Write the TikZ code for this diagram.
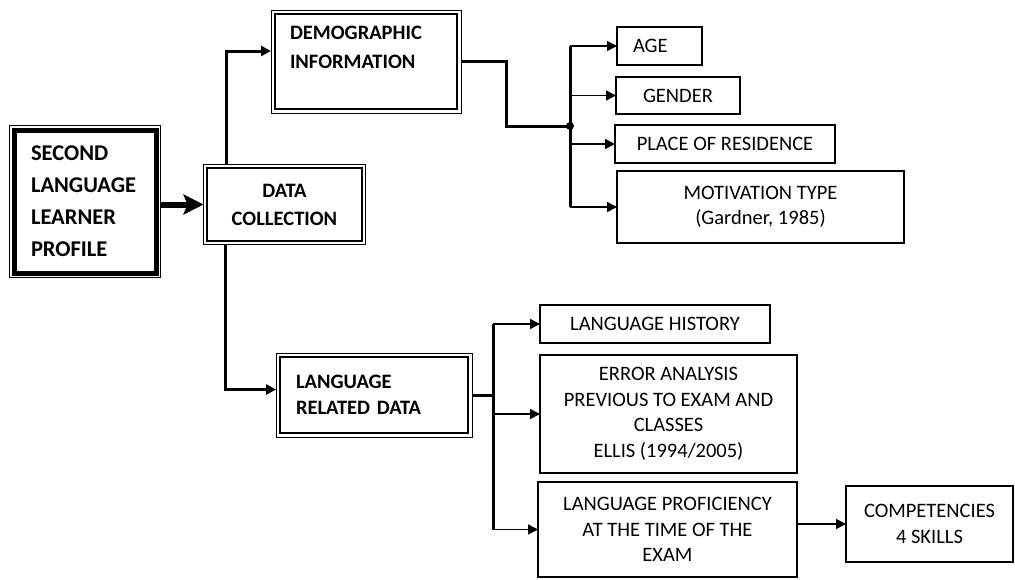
\documentclass[tikz,border=0pt]{standalone}
\usepackage{fontspec}
\setmainfont{Carlito}
\usetikzlibrary{arrows.meta,fit}

\begin{document}
\begin{tikzpicture}[x=1pt,y=-1pt,>={Triangle[length=10pt,width=10pt]},
                    every node/.style={font=\fontsize{20.5}{25.5}\selectfont},
                    box/.style={draw,line width=1.6pt,outer sep=0pt,inner sep=0pt,align=center},
                    headbox/.style={draw,outer sep=0pt,inner ysep=0pt,align=left},
                    frame/.style={draw,line width=1pt,outer sep=0pt},
                    link/.style={line width=3pt},
                    branch/.style={->,line width=1.5pt}]
  \useasboundingbox (0,0) rectangle (1015,579);

  % main boxes with double borders
  \node[headbox, line width=5pt, inner xsep=17pt, text width=108pt, minimum height=143pt,
        font=\fontsize{22.5}{32}\selectfont\bfseries] (sllp) at (85,201.5)
        {SECOND\\LANGUAGE\\LEARNER\\PROFILE};
  \node[box, line width=1.5pt, minimum width=155pt, minimum height=73pt,
        font=\fontsize{20.5}{28}\selectfont\bfseries] (dc) at (284.5,204.5) {DATA\\COLLECTION};
  \node[headbox, line width=2.5pt, inner xsep=15pt, text width=152pt, minimum height=95pt,
        font=\fontsize{20.5}{29}\selectfont\bfseries] (demo) at (366,61.5)
        {DEMOGRAPHIC\\INFORMATION\\\mbox{}};
  \node[headbox, line width=2.5pt, inner xsep=16pt, text width=156pt, minimum height=76pt,
        font=\fontsize{20.5}{26}\selectfont\bfseries] (lrd) at (374,395)
        {LANGUAGE\\RELATED DATA};

  \node[frame, fit=(sllp), inner sep=4.5pt] (sllp-f) {};
  \node[frame, fit=(dc), inner sep=3.5pt] (dc-f) {};
  \node[frame, fit=(demo), inner sep=4pt] (demo-f) {};
  \node[frame, fit=(lrd), inner sep=4pt] (lrd-f) {};

  % demographic items
  \node[box, minimum width=85pt, minimum height=38pt, text width=53pt, inner xsep=16pt,
        align=left] (age) at (659.5,46) {AGE};
  \node[box, minimum width=124pt, minimum height=37pt] (gen) at (678,95.5) {GENDER};
  \node[box, minimum width=220pt, minimum height=38pt] (res) at (725,144) {PLACE OF RESIDENCE};
  \node[box, minimum width=287pt, minimum height=72pt] (mot) at (760.5,207)
        {MOTIVATION TYPE\\(Gardner, 1985)};

  % language items
  \node[box, minimum width=230pt, minimum height=38pt] (hist) at (655,324) {LANGUAGE HISTORY};
  \node[box, minimum width=257pt, minimum height=118pt] (err) at (668.5,414)
        {ERROR ANALYSIS\\PREVIOUS TO EXAM AND\\CLASSES\\ELLIS (1994/2005)};
  \node[box, minimum width=259pt, minimum height=95pt] (prof) at (667.5,529.5)
        {LANGUAGE PROFICIENCY\\AT THE TIME OF THE\\EXAM};
  \node[box, minimum width=167pt, minimum height=76pt] (comp) at (929.5,524)
        {COMPETENCIES\\4 SKILLS};

  % connectors
  \draw[line width=6pt, -{Stealth[length=20pt,width=20pt,inset=4pt]}]
        (sllp-f.east |- dc-f.west) -- (dc-f.west);
  \draw[link, ->] ([xshift=23pt]dc-f.north west) |- ([yshift=10.5pt]demo-f.west);
  \draw[link, ->] ([xshift=22pt]dc-f.south west) |- ([yshift=5.5pt]lrd-f.west);

  \coordinate (hub1) at (570,126);
  \draw[link] (demo-f.east) -- ++(45,0) |- (hub1);
  \fill (hub1) circle (4pt);
  \draw[link] (hub1 |- age.west) -- (hub1 |- mot.west);
  \foreach \n in {age,gen,res,mot}
    \draw[branch] (hub1 |- \n.west) -- (\n.west);

  \coordinate (hub2) at (493,395);
  \draw[link] (lrd-f.east) -- (hub2);
  \draw[link] (hub2 |- hist.west) -- (hub2 |- prof.west);
  \foreach \n in {hist,err,prof}
    \draw[branch] (hub2 |- \n.west) -- (\n.west);
  \draw[branch] (prof.east |- comp.west) -- (comp.west);
\end{tikzpicture}
\end{document}
